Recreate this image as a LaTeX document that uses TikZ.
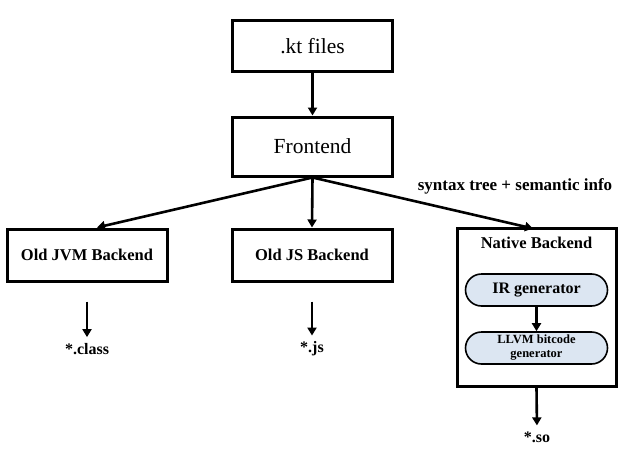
\documentclass[tikz,border=0pt]{standalone}
\usepackage{fontspec}
\setmainfont{Liberation Serif}
\usetikzlibrary{arrows.meta,shapes.misc}
\definecolor{pillfill}{HTML}{DCE6F2}
\begin{document}
\begin{tikzpicture}[x=1pt,y=-1pt,
  box/.style={draw,line width=3pt,minimum width=160pt,inner sep=0pt},
  pill/.style={draw,line width=1.6pt,rounded rectangle,fill=pillfill,
    minimum width=142pt,minimum height=32pt,inner sep=0pt,font=\bfseries},
  flow/.style={line width=2.6pt,-{Triangle[length=8pt,width=9pt]}},
  outtext/.style={font=\bfseries\fontsize{16}{18}\selectfont,inner sep=0pt}]
\useasboundingbox (0,0) rectangle (629,455);
% source and frontend
\node[box,minimum height=51pt,font=\fontsize{21.5}{24}\selectfont] (kt) at (312.5,46) {.kt files};
\node[box,minimum height=59pt,font=\fontsize{21.5}{24}\selectfont] (fe) at (312.5,146.5) {Frontend};
% backends
\node[box,minimum height=52pt,font=\bfseries\fontsize{16.5}{19}\selectfont] (jvm) at (87,255) {Old JVM Backend};
\node[box,minimum height=52pt,font=\bfseries\fontsize{16.5}{19}\selectfont] (js) at (312,255) {Old JS Backend};
\node[box,minimum width=159pt,minimum height=158pt] (nat) at (536.5,307) {};
\node[font=\bfseries\fontsize{16.5}{19}\selectfont] (natlbl) at (536.5,243) {Native Backend};
\node[pill,font=\bfseries\fontsize{16}{18}\selectfont] (ir) at (536.5,290) {IR generator};
\node[pill,align=center,font=\bfseries\fontsize{12.5}{14}\selectfont] (llvm) at (536.5,348) {LLVM bitcode\\generator};
% outputs
\node[outtext] (cls) at (87,349) {*.class};
\node[outtext] (jsout) at (312,349) {*.js};
\node[outtext] (so) at (537,437) {*.so};
% connectors
\draw[flow] (kt) -- (fe);
\draw[flow] (fe.south) -- (jvm.north -| 97,0);
\draw[flow] (fe.south) -- (js.north);
\draw[flow] (fe.south) -- (533,228.5) coordinate (natin);
\node[font=\bfseries\fontsize{17}{19}\selectfont] (sti) at (515,186) {syntax tree + semantic info};
\draw[flow] (ir) -- (llvm);
\draw[flow,shorten <=19pt,shorten >=6pt] (jvm.south) -- (cls.north);
\draw[flow,shorten <=19pt,shorten >=6pt] (js.south) -- (jsout.north);
\draw[flow,shorten >=6pt] (nat.south) -- (so.north);
\end{tikzpicture}
\end{document}
